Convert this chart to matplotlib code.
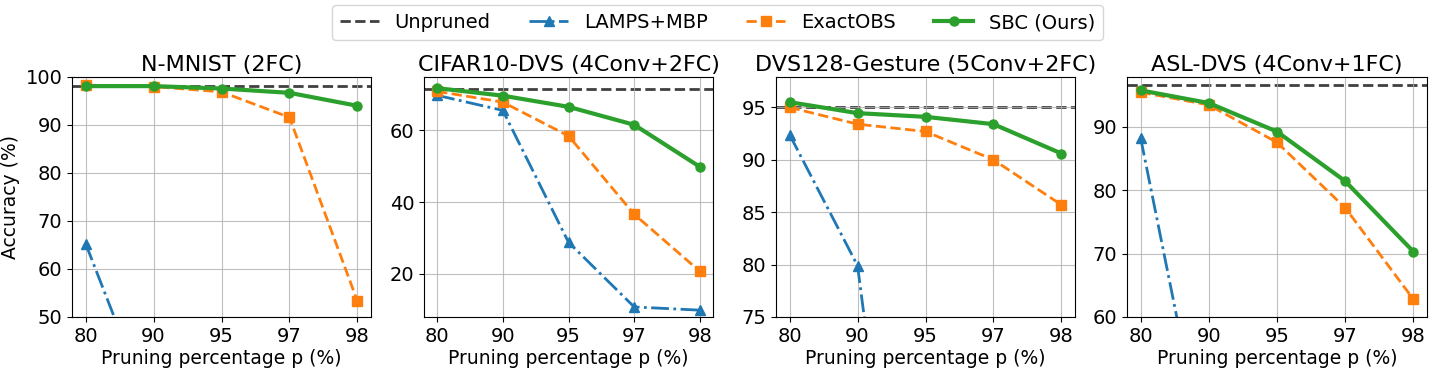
import matplotlib
matplotlib.use("Agg")
import matplotlib.pyplot as plt
import numpy as np
from matplotlib.lines import Line2D

# pruning levels (plotted at equal spacing)
prune_levels = ['80', '90', '95', '97', '98']

titles = ['N-MNIST (2FC)', 'CIFAR10-DVS (4Conv+2FC)',
          'DVS128-Gesture (5Conv+2FC)', 'ASL-DVS (4Conv+1FC)']

unpruned = [98.2, 71.4, 95.05, 96.5]

lamps_mbp = [
    [65.3, 29.0, 15.0, 10.0, 10.0],
    [69.7, 65.5, 28.8, 10.8, 9.9],
    [92.4, 79.9, 30.0, 12.0, 10.0],
    [88.2, 35.0, 12.0, 5.0, 4.0],
]
exact_obs = [
    [98.3, 98.0, 96.9, 91.6, 53.3],
    [70.8, 67.8, 58.4, 36.6, 20.7],
    [95.0, 93.4, 92.7, 90.0, 85.7],
    [95.4, 93.4, 87.5, 77.2, 62.8],
]
sbc = [
    [98.1, 98.1, 97.6, 96.7, 94.0],
    [71.7, 69.6, 66.5, 61.5, 49.8],
    [95.5, 94.45, 94.1, 93.4, 90.6],
    [95.7, 93.7, 89.2, 81.4, 70.3],
]

ylims = [(50, 100), (8, 74.8), (75, 97.9), (60, 97.8)]
yticks = [[50, 60, 70, 80, 90, 100], [20, 40, 60], [75, 80, 85, 90, 95], [60, 70, 80, 90]]

# axes placement in pixels (left, width)
W, H = 1435, 369
boxes = [(72, 299), (424, 289), (776, 299), (1127, 300)]
bottom_px, top_px = 317, 77

fig = plt.figure(figsize=(W / 100, H / 100), dpi=100)
x = np.arange(len(prune_levels))

for i, (left, width) in enumerate(boxes):
    ax = fig.add_axes([left / W, (H - bottom_px) / H, width / W, (bottom_px - top_px) / H])
    ax.axhline(unpruned[i], color='#404040', ls='--', lw=2, zorder=1)
    ax.plot(x, lamps_mbp[i], color='tab:blue', ls='-.', lw=2, marker='^', ms=6.5, zorder=2)
    ax.plot(x, exact_obs[i], color='tab:orange', ls='--', lw=2, marker='s', ms=6.5, zorder=3)
    ax.plot(x, sbc[i], color='tab:green', ls='-', lw=3, marker='o', ms=6.5, zorder=4)
    ax.set_xticks(x)
    ax.set_xticklabels(prune_levels)
    ax.set_xlim(-0.2, 4.2)
    ax.set_ylim(*ylims[i])
    ax.set_yticks(yticks[i])
    ax.grid(True, color='#b0b0b0', lw=0.8, alpha=0.8)
    ax.tick_params(labelsize=14)
    ax.set_title(titles[i], fontsize=16, pad=4)
    ax.set_xlabel('Pruning percentage p (%)', fontsize=13.5, labelpad=2)
    if i == 0:
        ax.set_ylabel('Accuracy (%)', fontsize=13.5)

handles = [
    Line2D([], [], color='#404040', ls='--', lw=2),
    Line2D([], [], color='tab:blue', ls='-.', lw=2, marker='^', ms=6.5),
    Line2D([], [], color='tab:orange', ls='--', lw=2, marker='s', ms=6.5),
    Line2D([], [], color='tab:green', ls='-', lw=3, marker='o', ms=6.5),
]
labels = ['Unpruned', 'LAMPS+MBP', 'ExactOBS', 'SBC (Ours)']
fig.legend(handles, labels, loc='upper center', bbox_to_anchor=(0.5, 1.012), ncol=4,
           fontsize=14, frameon=True, columnspacing=2.0)

fig.savefig('out.png', dpi=100)
